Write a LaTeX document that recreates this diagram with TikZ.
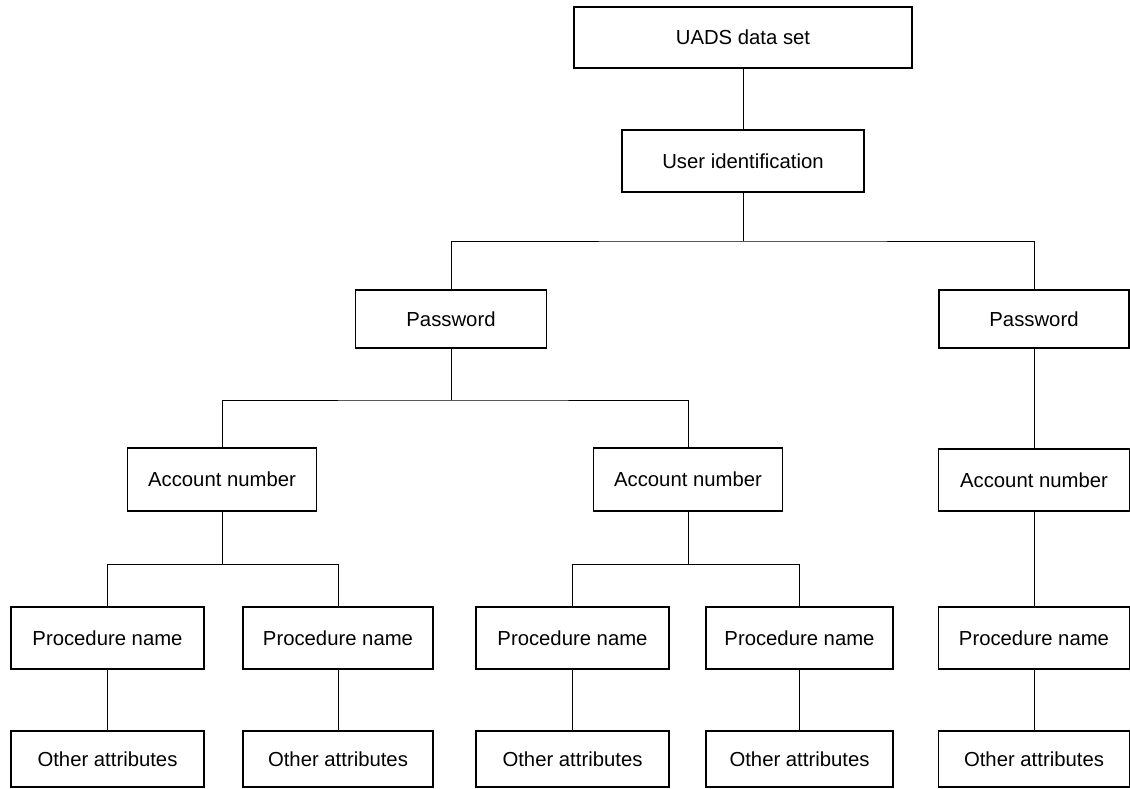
\documentclass[tikz,border=0pt]{standalone}
\usepackage{fontspec}
\setmainfont{Liberation Sans}
\begin{document}
\begin{tikzpicture}[x=1pt,y=-1pt,
  box/.style={draw,line width=1.7pt,rectangle,inner sep=0pt,minimum width=#1,font=\fontsize{20.3}{24}\selectfont},
  box/.default=191pt,
  conn/.style={line width=1pt}]
\useasboundingbox (0,0) rectangle (1130,788);
% nodes
\node[box=338pt,minimum height=61pt] (uads) at (743,37.5) {UADS data set};
\node[box=242pt,minimum height=62pt] (uid) at (743,161) {User identification};
\node[box=191pt,minimum height=58pt] (pwL) at (451,319) {Password};
\node[box=190pt,minimum height=58pt] (pwR) at (1034,319) {Password};
\node[box=189pt,minimum height=63pt] (acL) at (222,479.5) {Account number};
\node[box=189pt,minimum height=63pt] (acM) at (688,479.5) {Account number};
\node[box=191pt,minimum height=62pt] (acR) at (1034,480) {Account number};
\node[box=193pt,minimum height=62pt] (pr1) at (107.5,638) {Procedure name};
\node[box=190pt,minimum height=62pt] (pr2) at (338,638) {Procedure name};
\node[box=193pt,minimum height=62pt] (pr3) at (572.5,638) {Procedure name};
\node[box=187pt,minimum height=62pt] (pr4) at (799.5,638) {Procedure name};
\node[box=191pt,minimum height=62pt] (pr5) at (1034,638) {Procedure name};
\node[box=193pt,minimum height=56pt] (ot1) at (107.5,759) {Other attributes};
\node[box=190pt,minimum height=56pt] (ot2) at (338,759) {Other attributes};
\node[box=193pt,minimum height=56pt] (ot3) at (572.5,759) {Other attributes};
\node[box=187pt,minimum height=56pt] (ot4) at (799.5,759) {Other attributes};
\node[box=191pt,minimum height=56pt] (ot5) at (1034,759) {Other attributes};
% bus coordinates
\coordinate (b1) at (743,241);
\coordinate (b2) at (451,400);
\coordinate (b3) at (222,564);
\coordinate (b4) at (688,564);
% connectors
\draw[conn] (uads) -- (uid);
\draw[conn] (uid) -- (b1);
\draw[conn] (pwL.north) |- (b1) -| (pwR.north);
\draw[conn] (pwL) -- (b2);
\draw[conn] (acL.north) |- (b2) -| (acM.north);
\draw[conn] (pwR) -- (acR);
\draw[conn] (acL) -- (b3);
\draw[conn] (pr1.north) |- (b3) -| (pr2.north);
\draw[conn] (acM) -- (b4);
\draw[conn] (pr3.north) |- (b4) -| (pr4.north);
\draw[conn] (acR) -- (pr5);
\draw[conn] (pr1) -- (ot1);
\draw[conn] (pr2) -- (ot2);
\draw[conn] (pr3) -- (ot3);
\draw[conn] (pr4) -- (ot4);
\draw[conn] (pr5) -- (ot5);
\end{tikzpicture}
\end{document}
